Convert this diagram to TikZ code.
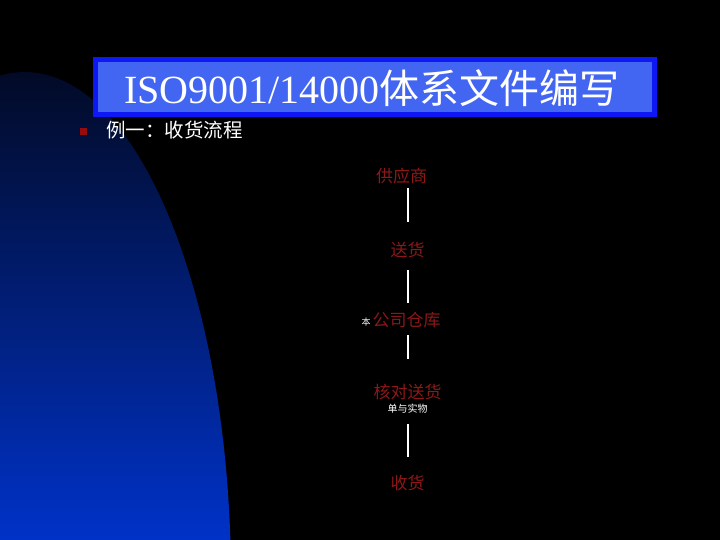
\documentclass[tikz,border=0pt]{standalone}
\usepackage{fontspec}
\setmainfont{Liberation Serif}
\newfontfamily\cjk{Noto Sans CJK SC}
\begin{document}
\begin{tikzpicture}[x=1pt,y=-1pt,
  flowtxt/.style={text=flowred,font=\cjk\fontsize{17}{17}\selectfont,inner sep=0pt},
  notetxt/.style={text=white,font=\cjk\fontsize{10}{10}\selectfont,inner sep=0pt},
  conn/.style={draw=white,line width=1.2pt}]
\definecolor{flowred}{RGB}{140,24,24}
\definecolor{boxouter}{RGB}{14,24,245}
\definecolor{boxinner}{RGB}{66,102,242}
\definecolor{navytop}{RGB}{2,10,38}
\definecolor{bluebot}{RGB}{0,50,200}
\definecolor{bulletred}{RGB}{150,12,12}
\fill[black] (0,0) rectangle (720,540);
\useasboundingbox (0,0) rectangle (720,540);
% blue quarter ellipse
\begin{scope}
  \clip (25,580) ellipse [x radius=206, y radius=508];
  \shade[top color=navytop, bottom color=bluebot] (0,72) rectangle (240,540);
\end{scope}
% title box
\node[draw=boxouter, line width=5pt, fill=boxinner, minimum width=559pt, minimum height=55pt, inner sep=0pt] (titlebox) at (375,87) {};
\node[text=white, inner sep=0pt] (title) at (372,88) {\fontsize{40}{40}\selectfont ISO9001/14000{\cjk 体系文件编写}};
% bullet and subtitle
\node[fill=bulletred, minimum size=6.5pt, inner sep=0pt] (bullet) at (83.5,131.5) {};
\node[anchor=west, text=white, inner sep=0pt, font=\cjk\fontsize{19.5}{19.5}\selectfont] (sub) at (106,130) {例一：收货流程};
% flow
\node[flowtxt] (sup) at (401.5,176) {供应商};
\node[flowtxt] (send) at (407.5,250) {送货};
\node[flowtxt] (ware) at (406.5,320) {公司仓库};
\node[text=white, inner sep=0pt, font=\cjk\fontsize{9}{9}\selectfont] (ben) at (366,322) {本};
\node[flowtxt] (check) at (407.5,392) {核对送货};
\node[notetxt] (note) at (407.5,409) {单与实物};
\node[flowtxt] (recv) at (407.5,483) {收货};
\coordinate (l1a) at (408,188); \coordinate (l1b) at (408,222);
\coordinate (l2a) at (408,270); \coordinate (l2b) at (408,303);
\coordinate (l3a) at (408,335); \coordinate (l3b) at (408,359);
\coordinate (l4a) at (408,424); \coordinate (l4b) at (408,457);
\draw[conn] (l1a) -- (l1b);
\draw[conn] (l2a) -- (l2b);
\draw[conn] (l3a) -- (l3b);
\draw[conn] (l4a) -- (l4b);
\end{tikzpicture}
\end{document}
